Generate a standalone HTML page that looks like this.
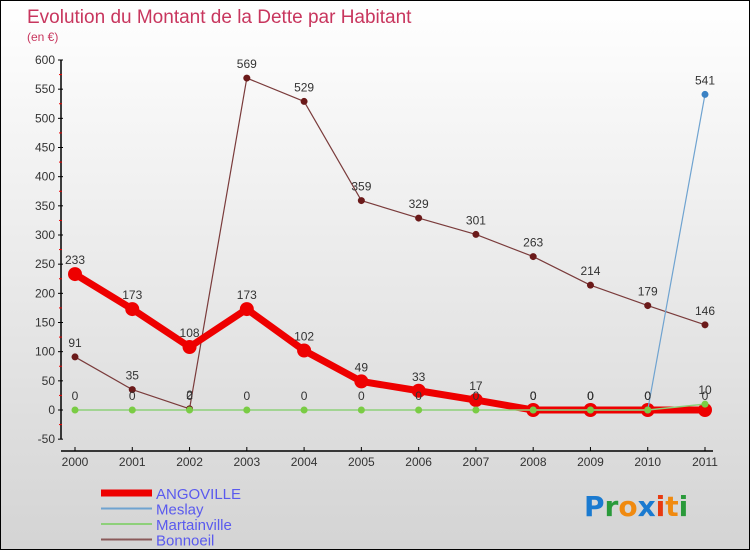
<!DOCTYPE html>
<html><head><meta charset="utf-8"><style>
html,body{margin:0;padding:0}
body{width:750px;height:550px;overflow:hidden;font-family:"Liberation Sans",sans-serif}
#wrap{position:relative;width:748px;height:548px;border:1px solid #000;background:linear-gradient(#fff,#d4d4d4)}
</style></head><body>
<div id="wrap">
<svg id="chart" width="748" height="548"></svg>
</div>
<script>
const years=[2000,2001,2002,2003,2004,2005,2006,2007,2008,2009,2010,2011];
const angoville=[233,173,108,173,102,49,33,17,0,0,0,0];
const meslay=[null,null,null,null,null,null,null,null,0,0,0,541];
const martainville=[0,0,0,0,0,0,0,0,0,0,0,10];
const bonnoeil=[91,35,2,569,529,359,329,301,263,214,179,146];
const yTicks=[-50,0,50,100,150,200,250,300,350,400,450,500,550,600];
const NS="http://www.w3.org/2000/svg";
const svg=document.getElementById('chart');
function X(i){return 74+i*(630/11);}
function Y(v){return 409-v*(350/600);}
function el(t,a,p){const e=document.createElementNS(NS,t);for(const k in a)e.setAttribute(k,a[k]);(p||svg).appendChild(e);return e;}
function txt(x,y,s,a){const t=el('text',Object.assign({x:x,y:y,'font-family':'Liberation Sans, sans-serif'},a));t.textContent=s;return t;}
let t;
t=txt(26,22,'Evolution du Montant de la Dette par Habitant',{'font-size':19,fill:'#c8365e'});

t=txt(26,40,'(en €)',{'font-size':12,fill:'#c8365e'});

// y axis
let ax=el('line',{x1:60,y1:Y(600),x2:60,y2:Y(-50),stroke:'#000','stroke-width':1.5});

yTicks.forEach((v,i)=>{
  el('line',{x1:57,y1:Y(v),x2:62,y2:Y(v),stroke:'#000'});
  t=txt(54,Y(v)+4,String(v),{'font-size':12,fill:'#333','text-anchor':'end'});
  
  if(i<yTicks.length-1){el('line',{x1:58,y1:Y(v+25),x2:61,y2:Y(v+25),stroke:'#e00'});}
});
// x axis
ax=el('line',{x1:60,y1:450,x2:712,y2:450,stroke:'#000','stroke-width':1.5});

years.forEach((y,i)=>{
  el('line',{x1:X(i),y1:446,x2:X(i),y2:450,stroke:'#000'});
  t=txt(X(i),465,String(y),{'font-size':12,fill:'#333','text-anchor':'middle'});
  
});
function series(data,name,color,w,r,dot){
  const g=el('g',{});
  
  let d='';data.forEach((v,i)=>{if(v===null)return;d+=(d?'L':'M')+X(i)+','+Y(v);});
  el('path',{d:d,fill:'none',stroke:color,'stroke-width':w,'stroke-linejoin':'round'},g);
  data.forEach((v,i)=>{if(v===null)return;
    const c=el('circle',{cx:X(i),cy:Y(v),r:r,fill:dot},g);
    
    const l=txt(X(i),Y(v)-10,String(v),{'font-size':12,fill:'#333','text-anchor':'middle'},g);
    
  });
}
series(bonnoeil,'bonnoeil','#7a3b3b',1.2,3.5,'#6b1a1a');
series(angoville,'angoville','#ee0000',7,7,'#ee0000');
series(meslay,'meslay','#6fa3d0',1.2,3.5,'#3b82c4');
series(martainville,'martainville','#8ed07a',1.5,3.5,'#7acc44');
// legend
const leg=[['ANGOVILLE','#ee0000',7],['Meslay','#6fa3d0',2],['Martainville','#8ed07a',2],['Bonnoeil','#8a5a5a',2]];
leg.forEach((l,i)=>{
  const g=el('g',{});
  
  const yy=492+i*15.5;
  el('line',{x1:100,y1:yy,x2:151,y2:yy,stroke:l[1],'stroke-width':l[2]},g);
  txt(155,yy+6,l[0],{'font-size':15,fill:'#5a5aee'},g);
});
// logo
const lg=el('text',{x:583,y:515,'font-size':28,'font-family':'DejaVu Sans, sans-serif','font-weight':'bold'});

[['P','#1a7ad0'],['r','#2a9a3a'],['o','#f08a10'],['x','#1a7ad0'],['i','#e83a10'],['t','#f08a10'],['i','#2a9a3a']].forEach(c=>{
  const s=el('tspan',{fill:c[1]},lg);s.textContent=c[0];});
</script>
</body></html>
